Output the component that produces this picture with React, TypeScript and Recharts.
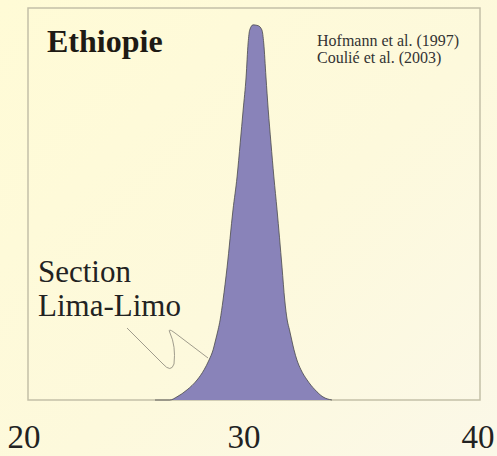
import { AreaChart, Area, XAxis, YAxis, ReferenceArea } from 'recharts';

// distribution (x = value, y = relative frequency)
const xValues = [
  25.62, 26.28, 26.59, 27.04, 27.48, 27.79, 28.01, 28.19, 28.3, 28.41, 28.5, 28.63, 28.81, 29.07, 29.25, 29.39, 29.52, 29.65, 29.74, 29.81, 29.96,
  30.18, 30.35, 30.43, 30.53, 30.63, 30.75, 30.88, 31.02, 31.24, 31.36, 31.47, 31.57, 31.67, 31.77, 31.9, 32.08, 32.35, 32.7, 33.05, 33.45,
];
const yValues = [
  0, 0, 0.8, 2.6, 5.1, 7.7, 10.2, 12.8, 15.3, 17.9, 20.4, 25.5, 33.9, 48.5, 56.9, 65.6, 74, 82.4, 91.1, 94.4, 95.7,
  95.5, 94.4, 91.1, 82.4, 74, 65.6, 56.9, 48.5, 33.9, 25.5, 20.4, 17.9, 15.3, 12.8, 10.2, 7.7, 5.1, 2.6, 0.8, 0,
];
const xTicks = [20, 30, 40];

const title = 'Ethiopie';
const refs = ['Hofmann et al. (1997)', 'Coulié et al. (2003)'];
const note = ['Section', 'Lima-Limo'];

const data = xValues.map((x, i) => ({ x, y: yValues[i] }));

const serif = "'Liberation Serif', 'DejaVu Serif', 'Times New Roman', Times, serif";

function Tick(props: any) {
  const { x, y, payload } = props;
  const nudge = payload.value === 30 ? -10 : payload.value === 20 ? -4 : -2;
  return (
    <text x={x + nudge} y={y + 40} textAnchor="middle" fontFamily={serif} fontSize={33} fill="#222">
      {payload.value}
    </text>
  );
}

export default function App() {
  return (
    <div
      style={{
        position: 'absolute', left: 0, top: 0, width: 497, height: 456,
        background: 'linear-gradient(135deg, #fffbd6 0%, #fdf9dc 55%, #fbf8e8 100%)',
      }}
    >
      <AreaChart width={497} height={456} data={data} margin={{ top: 8, right: 17, left: 28, bottom: 26 }}>
        <XAxis
          dataKey="x" type="number" domain={[20, 40]} ticks={xTicks} height={30}
          axisLine={false} tickLine={false} tick={<Tick />} interval={0}
        />
        <YAxis hide domain={[0, 100]} />
        <ReferenceArea x1={20} x2={40} y1={0} y2={100} fill="none" stroke="#c4c0a8" strokeWidth={1.5} />
        <Area
          type="monotone" dataKey="y" stroke="#4a4a4a" strokeWidth={0.8}
          fill="#8983b9" fillOpacity={1} isAnimationActive={false}
        />
      </AreaChart>
      <svg width={497} height={456} style={{ position: 'absolute', left: 0, top: 0, pointerEvents: 'none' }}>
        <text x={47} y={52} fontFamily={serif} fontWeight="bold" fontSize={32} fill="#1e1a14">{title}</text>
        {refs.map((r, i) => (
          <text key={r} x={317} y={46 + i * 17} fontFamily={serif} fontSize={16} fill="#333">{r}</text>
        ))}
        {note.map((n, i) => (
          <text key={n} x={38} y={282 + i * 34} fontFamily={serif} fontSize={31} fill="#222">{n}</text>
        ))}
        <path
          d="M127,328 L163,364 Q171,373 174,364 Q176,346 170,333 Q167,327 175,333 L208,358"
          fill="none" stroke="#a09c8c" strokeWidth={1}
        />
      </svg>
    </div>
  );
}
